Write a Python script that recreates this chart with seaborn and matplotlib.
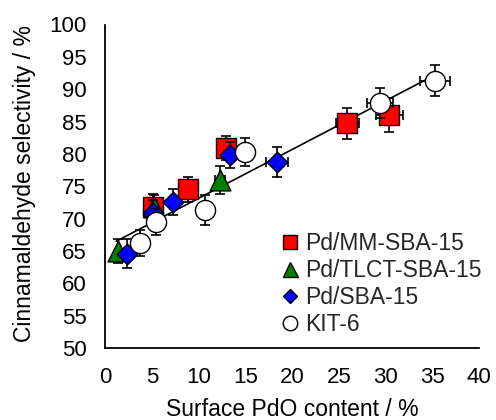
import matplotlib
matplotlib.use("Agg")
import matplotlib.pyplot as plt
from matplotlib.lines import Line2D
import seaborn as sns

# ---- data ----
mm_x = [5.1, 8.9, 12.9, 25.9, 30.4]
mm_y = [71.8, 74.5, 80.9, 84.7, 86.0]
mm_xerr = [0.3, 0.4, 0.6, 1.2, 1.4]
mm_yerr = [2.0, 2.0, 1.9, 2.4, 2.6]

tl_x = [1.4, 5.2, 12.3]
tl_y = [65.0, 71.8, 76.0]
tl_xerr = [0.1, 0.2, 0.5]
tl_yerr = [1.8, 1.8, 2.2]

sba_x = [2.3, 5.1, 7.3, 13.35, 18.4]
sba_y = [64.6, 70.8, 72.6, 79.8, 78.7]
sba_xerr = [0.1, 0.2, 0.3, 0.6, 1.2]
sba_yerr = [2.2, 2.0, 2.0, 2.0, 2.3]

kit_x = [3.7, 5.4, 10.7, 15.0, 29.4, 35.3]
kit_y = [66.2, 69.5, 71.3, 80.3, 87.9, 91.3]
kit_xerr = [0.2, 0.3, 0.5, 0.7, 1.4, 1.6]
kit_yerr = [2.0, 2.0, 2.3, 2.2, 2.3, 2.4]

fit_x = [1.2, 35.0]
fit_y = [66.5, 92.0]

labels = ["Pd/MM-SBA-15", "Pd/TLCT-SBA-15", "Pd/SBA-15", "KIT-6"]
x_ticks = [0, 5, 10, 15, 20, 25, 30, 35, 40]
y_ticks = [50, 55, 60, 65, 70, 75, 80, 85, 90, 95, 100]

# ---- style ----
sns.set_theme(style="white")
plt.rcParams["font.family"] = ["Liberation Sans", "DejaVu Sans"]

fig = plt.figure(figsize=(4.96, 4.20), dpi=100)
L, R, B, T = 105 / 496, 479.3 / 496, 1 - 348 / 420, 1 - 24.5 / 420
ax = fig.add_axes([L, B, R - L, T - B])

series = [
    (mm_x, mm_y, mm_xerr, mm_yerr, "#FF0000", "s", 14.0),
    (tl_x, tl_y, tl_xerr, tl_yerr, "#008000", "^", 15.0),
    (sba_x, sba_y, sba_xerr, sba_yerr, "#0000FF", "D", 10.5),
    (kit_x, kit_y, kit_xerr, kit_yerr, "#FFFFFF", "o", 14.5),
]

# fit line
sns.lineplot(x=fit_x, y=fit_y, ax=ax, color="black", linewidth=1.2, zorder=2)

for i, (xs, ys, xe, ye, col, mk, ms) in enumerate(series):
    ax.errorbar(xs, ys, xerr=xe, yerr=ye, fmt="none", ecolor="black",
                elinewidth=1.2, capsize=3.5, capthick=1.2, zorder=3 + 2 * i)
    sns.scatterplot(x=xs, y=ys, ax=ax, marker=mk, s=ms ** 2, color=col,
                    edgecolor="black", linewidth=1.0, zorder=4 + 2 * i,
                    legend=False)

ax.set_xlim(0, 40)
ax.set_ylim(50, 100)
ax.set_xticks(x_ticks)
ax.set_yticks(y_ticks)
ax.set_xticklabels([str(t) for t in x_ticks])
ax.set_yticklabels([str(t) for t in y_ticks])
ax.tick_params(axis="both", direction="out", length=6, width=1.2,
               colors="black", labelsize=16)
ax.tick_params(axis="y", pad=7)
ax.tick_params(axis="x", pad=8)
for side in ["top", "right"]:
    ax.spines[side].set_visible(False)
for side in ["left", "bottom"]:
    ax.spines[side].set_color("black")
    ax.spines[side].set_linewidth(1.3)

ax.set_xlabel("Surface PdO content / %", fontsize=16.5, color="black", va="center")
ax.set_ylabel("Cinnamaldehyde selectivity / %", fontsize=16.5, color="black",
              va="center")
W, H = 479.3 - 105, 348 - 24.5
ax.xaxis.set_label_coords((292 - 105) / W, -(410 - 348) / H)
ax.yaxis.set_label_coords(-(105 - 25) / W, (348 - 184) / H)

handles = []
for (xs, ys, xe, ye, col, mk, ms) in series:
    handles.append(Line2D([0], [0], linestyle="none", marker=mk,
                          markersize=ms * 0.72, markerfacecolor=col,
                          markeredgecolor="black", markeredgewidth=1.0))
leg = ax.legend(handles, labels, loc="upper left",
                bbox_to_anchor=(281 / 496, 1 - 232 / 420),
                bbox_transform=fig.transFigure, frameon=False,
                fontsize=16.5, handlelength=0.8, handletextpad=0.25,
                labelspacing=0.18, borderpad=0, borderaxespad=0)

fig.savefig("out.png", dpi=100)
